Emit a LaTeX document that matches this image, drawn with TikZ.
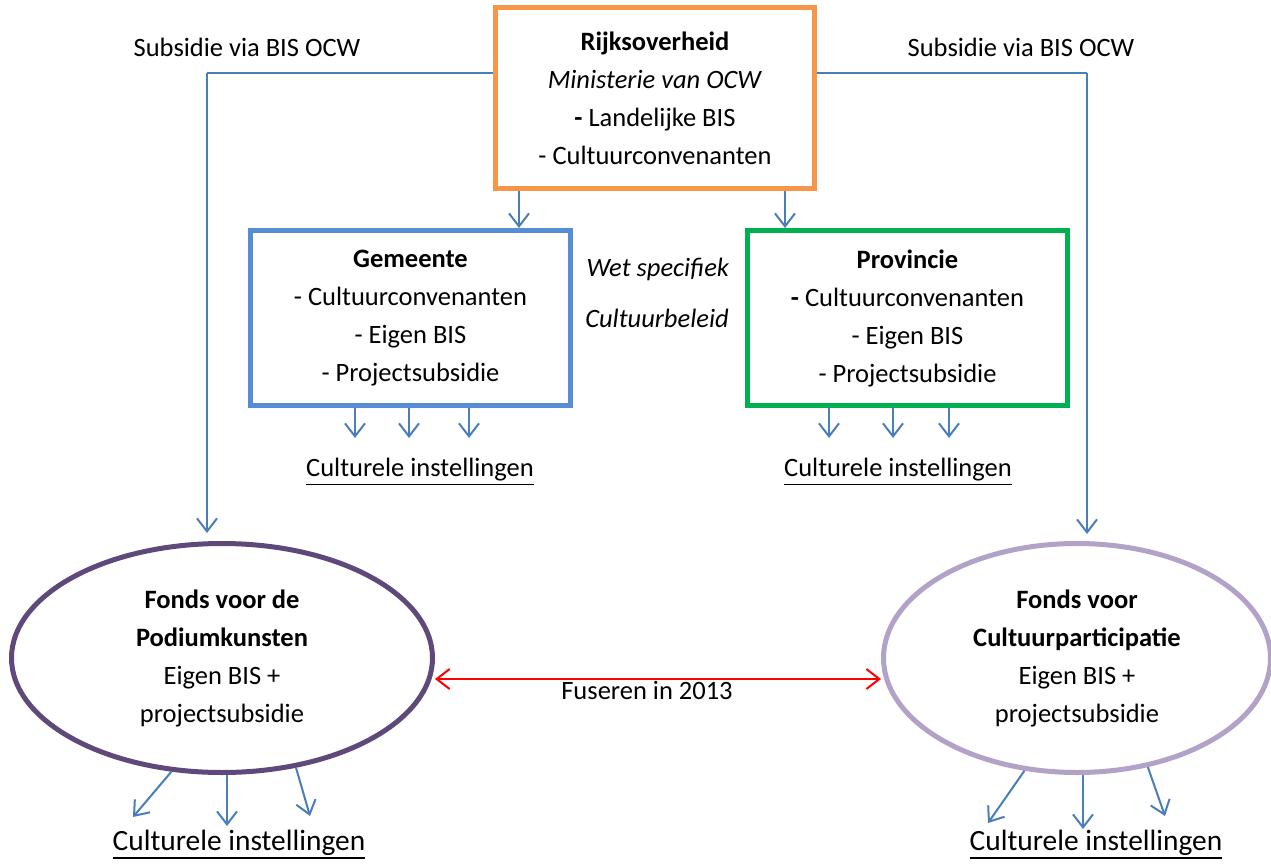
\documentclass[tikz,border=0pt]{standalone}
\usepackage{fontspec}
\setmainfont{Carlito}
\usetikzlibrary{arrows.meta,shapes.geometric}
\definecolor{orng}{HTML}{F79646}
\definecolor{bluebox}{HTML}{558ED5}
\definecolor{grn}{HTML}{00B050}
\definecolor{arrblue}{HTML}{4A7EBB}
\definecolor{dpurp}{HTML}{5F497A}
\definecolor{lpurp}{HTML}{B3A2C7}
\newcommand\myul[2]{\leavevmode\vtop{\hbox{#2}\kern#1\hrule height 1.8pt}}
\begin{document}
\begin{tikzpicture}[x=1pt,y=-1pt,
  txt/.style={font=\fontsize{26.5}{38}\selectfont, align=center, inner sep=0pt},
  bigtxt/.style={font=\fontsize{29.4}{36}\selectfont, align=center, inner sep=0pt},
  boxnode/.style={draw, line width=5pt, rectangle, txt, minimum width=320pt, minimum height=175pt},
  fonds/.style={draw, line width=5pt, ellipse, txt, minimum height=229pt},
  arr/.style={draw=arrblue, line width=2pt, -{Straight Barb[length=13pt,width=20pt]}},
  redarr/.style={draw=red, line width=2pt, {Straight Barb[length=13pt,width=20pt]}-{Straight Barb[length=13pt,width=20pt]}},
  sline/.style={draw=arrblue, line width=2pt}
]
\useasboundingbox (0,0) rectangle (1271,864);

% top box
\node[boxnode, draw=orng, minimum width=319pt, minimum height=181pt] (rijk) at (655,98)
  {\textbf{Rijksoverheid}\\ \textit{Ministerie van OCW}\\ \textbf{-} Landelijke BIS\\ - Cultuurconvenanten};

\node[boxnode, draw=bluebox] (gem) at (410.5,318)
  {\textbf{Gemeente}\\ - Cultuurconvenanten\\ - Eigen BIS\\ - Projectsubsidie};
\node[boxnode, draw=grn] (prov) at (907.5,318)
  {\textbf{Provincie}\\ \textbf{-} Cultuurconvenanten\\ - Eigen BIS\\ - Projectsubsidie};

\node[fonds, draw=dpurp, minimum width=421pt] (fpk) at (222,658)
  {\textbf{Fonds voor de}\\ \textbf{Podiumkunsten}\\ Eigen BIS +\\ projectsubsidie};
\node[fonds, draw=lpurp, minimum width=387pt] (fcp) at (1077,658)
  {\textbf{Fonds voor}\\ \textbf{Cultuurparticipatie}\\ Eigen BIS +\\ projectsubsidie};

% labels
\node[txt] (subl) at (247,47) {Subsidie via BIS OCW};
\node[txt] (subr) at (1021,47) {Subsidie via BIS OCW};
\node[txt] (wet1) at (658,269) {\textit{Wet specifiek}};
\node[txt] (wet2) at (657,318) {\textit{Cultuurbeleid}};
\node[txt, anchor=base] (ci1) at (420,476) {\myul{3pt}{Culturele instellingen}};
\node[txt, anchor=base] (ci2) at (898,476) {\myul{3pt}{Culturele instellingen}};
\node[bigtxt, anchor=base] (ci3) at (239,850) {\myul{2pt}{Culturele instellingen}};
\node[bigtxt, anchor=base] (ci4) at (1096,850) {\myul{2pt}{Culturele instellingen}};
\node[txt] (fus) at (647,690) {Fuseren in 2013};

% subsidie lines
\coordinate (sl) at (207,73);
\coordinate (sr) at (1087,73);
\draw[sline] (rijk.west |- sl) -- (sl);
\draw[arr, shorten >=8pt] (sl) -- (sl |- fpk.north);
\draw[sline] (rijk.east |- sr) -- (sr);
\draw[arr, shorten >=7pt] (sr) -- (sr |- fcp.north);

% rijk to gem/prov
\coordinate (ra) at (519,0);
\coordinate (rb) at (785,0);
\draw[arr] (rijk.south -| ra) -- (gem.north -| ra);
\draw[arr] (rijk.south -| rb) -- (prov.north -| rb);

% gem / prov down arrows
\coordinate (g1) at (355,438);
\coordinate (g2) at (409,438);
\coordinate (g3) at (469,438);
\coordinate (p1) at (829,438);
\coordinate (p2) at (893,438);
\coordinate (p3) at (949,438);
\draw[arr] (gem.south -| g1) -- (g1);
\draw[arr] (gem.south -| g2) -- (g2);
\draw[arr] (gem.south -| g3) -- (g3);
\draw[arr] (prov.south -| p1) -- (p1);
\draw[arr] (prov.south -| p2) -- (p2);
\draw[arr] (prov.south -| p3) -- (p3);

% red merge arrow
\coordinate (fa) at (0,679);
\draw[redarr] (fpk.east |- fa) -- (fcp.west |- fa);

% bottom arrows
\coordinate (b1) at (133,817);
\coordinate (b2) at (227,826);
\coordinate (b3) at (310,816);
\coordinate (c1) at (988,823);
\coordinate (c2) at (1083,829);
\coordinate (c3) at (1165,816);
\draw[arr] (fpk.246) -- (b1);
\draw[arr] (fpk.south -| b2) -- (b2);
\draw[arr] (fpk.304) -- (b3);
\draw[arr] (fcp.245) -- (c1);
\draw[arr] (fcp.south -| c2) -- (c2);
\draw[arr] (fcp.303) -- (c3);
\end{tikzpicture}
\end{document}
